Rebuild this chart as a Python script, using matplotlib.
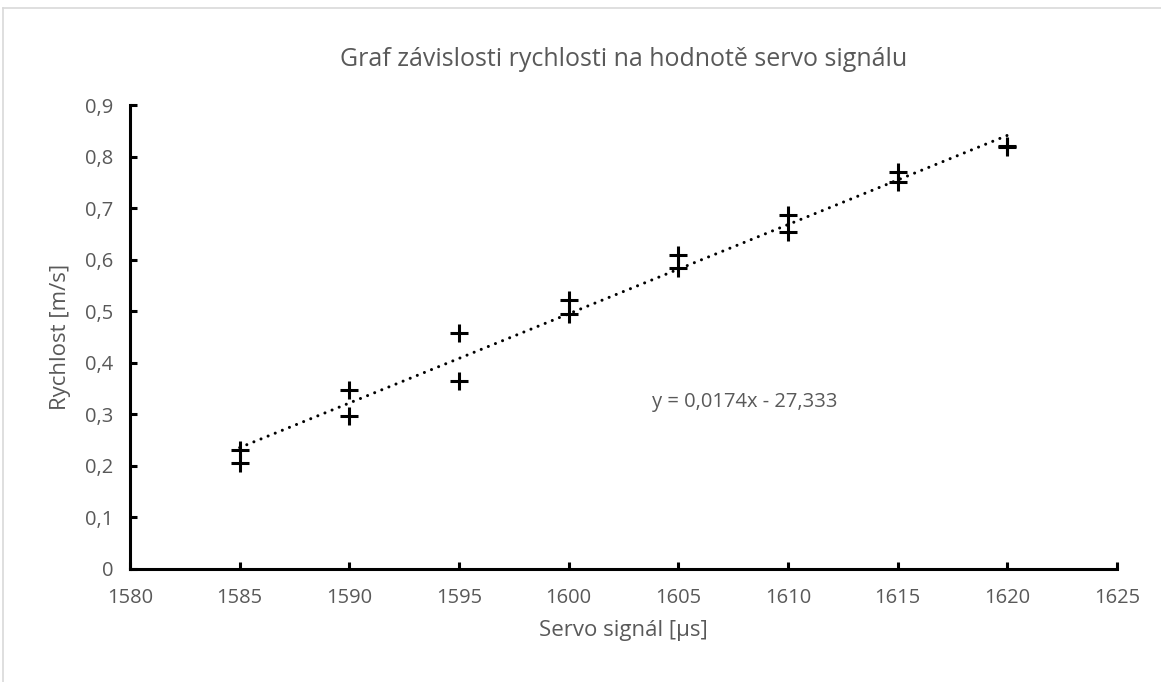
import numpy as np
import matplotlib
matplotlib.use('Agg')
import matplotlib.pyplot as plt
from matplotlib.lines import Line2D

plt.rcParams['font.family'] = ['Open Sans', 'DejaVu Sans']

servo = [1585, 1585, 1590, 1590, 1595, 1595, 1600, 1600,
         1605, 1605, 1610, 1610, 1615, 1615, 1620, 1620]
speed = [0.230, 0.205, 0.348, 0.297, 0.457, 0.365, 0.522, 0.495,
         0.609, 0.584, 0.687, 0.654, 0.770, 0.751, 0.820, 0.818]
x_ticks = [1580, 1585, 1590, 1595, 1600, 1605, 1610, 1615, 1620, 1625]
y_ticks = [0, 0.1, 0.2, 0.3, 0.4, 0.5, 0.6, 0.7, 0.8, 0.9]
equation = 'y = 0,0174x - 27,333'

grey = '#595959'

fig = plt.figure(figsize=(11.61, 6.82), dpi=100)
ax = fig.add_axes([0.112, 0.1657, 0.85, 0.6803])

# chart area border (top and left visible)
fig.add_artist(Line2D([0.003, 0.003], [0, 0.988], color='#d9d9d9', lw=1.2))
fig.add_artist(Line2D([0.003, 1], [0.988, 0.988], color='#d9d9d9', lw=1.2))

# linear trendline from the data
k, q = np.polyfit(servo, speed, 1)
xs = np.array([min(servo), max(servo)])
ax.plot(xs, k * xs + q, color='black', lw=2.2, linestyle=(0, (0.01, 2.5)),
        dash_capstyle='round', zorder=2)

ax.plot(servo, speed, linestyle='none', marker='+', ms=13, mew=2.2,
        color='black', zorder=3)

ax.text(1603.8, 0.324, equation, fontsize=14.5, color=grey, va='center')

ax.set_xlim(1580, 1625)
ax.set_ylim(0, 0.9)
ax.set_xticks(x_ticks)
ax.set_yticks(y_ticks)
ax.set_xticklabels([str(v) for v in x_ticks])
ax.set_yticklabels([f'{v:.1f}'.replace('.', ',') if v else '0' for v in y_ticks])
ax.tick_params(direction='in', length=5, width=2.2, color='black',
               labelcolor=grey, labelsize=14.5)
ax.tick_params(axis='y', pad=12)
ax.tick_params(axis='x', pad=14)

for side in ['top', 'right']:
    ax.spines[side].set_visible(False)
for side in ['left', 'bottom']:
    ax.spines[side].set_linewidth(2.2)
    ax.spines[side].set_color('black')

ax.set_title('Graf závislosti rychlosti na hodnotě servo signálu',
             fontsize=18, color=grey, pad=28)
ax.set_xlabel('Servo signál [µs]', fontsize=16, color=grey, labelpad=8)
ax.set_ylabel('Rychlost [m/s]', fontsize=16, color=grey, labelpad=10)

fig.savefig('out.png', dpi=100, facecolor='white')
